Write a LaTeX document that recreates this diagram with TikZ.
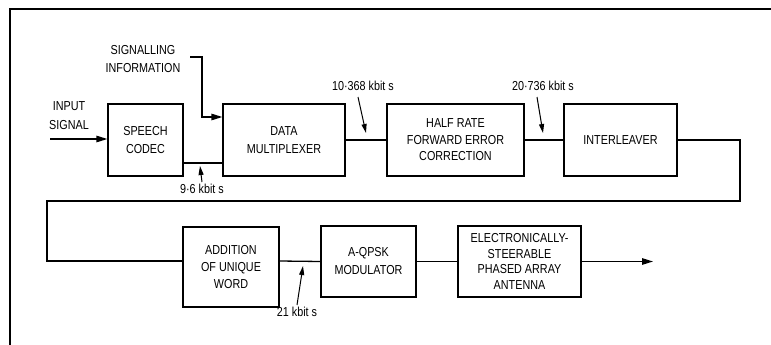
\documentclass[tikz,border=0pt]{standalone}
\usepackage{fontspec}
\setmainfont{Liberation Sans}[FakeStretch=0.83]
\usetikzlibrary{arrows.meta}
\begin{document}
\begin{tikzpicture}[x=1pt,y=-1pt,
  line width=1.3pt,
  blk/.style={draw,line width=1.3pt,inner sep=0pt,align=center,font=\fontsize{13}{18}\selectfont},
  lbl/.style={inner sep=0pt,align=center,font=\fontsize{13}{18}\selectfont},
  big/.style={-{Triangle[length=11pt,width=6.5pt]}},
  sml/.style={-{Triangle[length=9pt,width=5pt]},line width=1pt}]
\useasboundingbox (0,0) rectangle (771,345);
% frame
\coordinate (fa) at (10,345);
\coordinate (fb) at (10,9);
\coordinate (fc) at (771,9);
\draw (fa) -- (fb) -- (fc);
% blocks
\node[blk,minimum width=75pt,minimum height=72pt] (speech) at (145.5,140) {SPEECH\\CODEC};
\node[blk,minimum width=122pt,minimum height=72pt] (mux) at (284,140) {DATA\\MULTIPLEXER};
\node[blk,minimum width=137pt,minimum height=72pt,font=\fontsize{13}{16.5}\selectfont] (fec) at (455.5,140) {HALF RATE\\FORWARD ERROR\\CORRECTION};
\node[blk,minimum width=113pt,minimum height=72pt] (inter) at (620.5,140) {INTERLEAVER};
\node[blk,minimum width=96pt,minimum height=80pt,font=\fontsize{13}{17}\selectfont] (add) at (231,267) {ADDITION\\OF UNIQUE\\WORD};
\node[blk,minimum width=95pt,minimum height=71pt] (qpsk) at (368.5,261.5) {A-QPSK\\MODULATOR};
\node[blk,minimum width=123pt,minimum height=71pt,font=\fontsize{13}{15.5}\selectfont] (ant) at (519.5,261.5) {ELECTRONICALLY-\\STEERABLE\\PHASED ARRAY\\ANTENNA};
% side labels
\node[lbl,font=\fontsize{13}{19}\selectfont] (inlbl) at (69,115.5) {INPUT\\SIGNAL};
\node[lbl] (siglbl) at (143,59) {SIGNALLING\\INFORMATION};
\node[lbl] (r1) at (363,86) {10·368 kbit s};
\node[lbl] (r2) at (543,86) {20·736 kbit s};
\node[lbl] (r3) at (202,189) {9·6 kbit s};
\node[lbl] (r4) at (297,312) {21 kbit s};
% connectors
\coordinate (inA) at (50,139);
\draw[big] (inA) -- (inA -| speech.west);
\draw ([yshift=-23pt]speech.east) -- ([yshift=-23pt]mux.west);
\coordinate (sA) at (190,57);
\coordinate (sB) at (202,57);
\draw[big] (sA) -- (sB) |- ([yshift=23pt]mux.west);
\draw (mux) -- (fec);
\draw (fec) -- (inter);
\coordinate (t1) at (740,201);
\coordinate (t2) at (47,201);
\draw (inter.east) -| (t1) -- (t2) |- ([yshift=6pt]add.west);
\draw ([yshift=6pt]add.east) -- (qpsk.west);
\draw (qpsk) -- (ant);
\coordinate (outA) at (653,261.5);
\draw[big] (ant.east) -- (outA);
% rate arrows
\coordinate (a1s) at (358,97); \coordinate (a1e) at (366,133);
\draw[sml] (a1s) -- (a1e);
\coordinate (a2s) at (537,97); \coordinate (a2e) at (543,133);
\draw[sml] (a2s) -- (a2e);
\coordinate (a3s) at (202,182); \coordinate (a3e) at (200,166);
\draw[sml] (a3s) -- (a3e);
\coordinate (a4s) at (297,305); \coordinate (a4e) at (303,266);
\draw[sml] (a4s) -- (a4e);
\end{tikzpicture}
\end{document}
